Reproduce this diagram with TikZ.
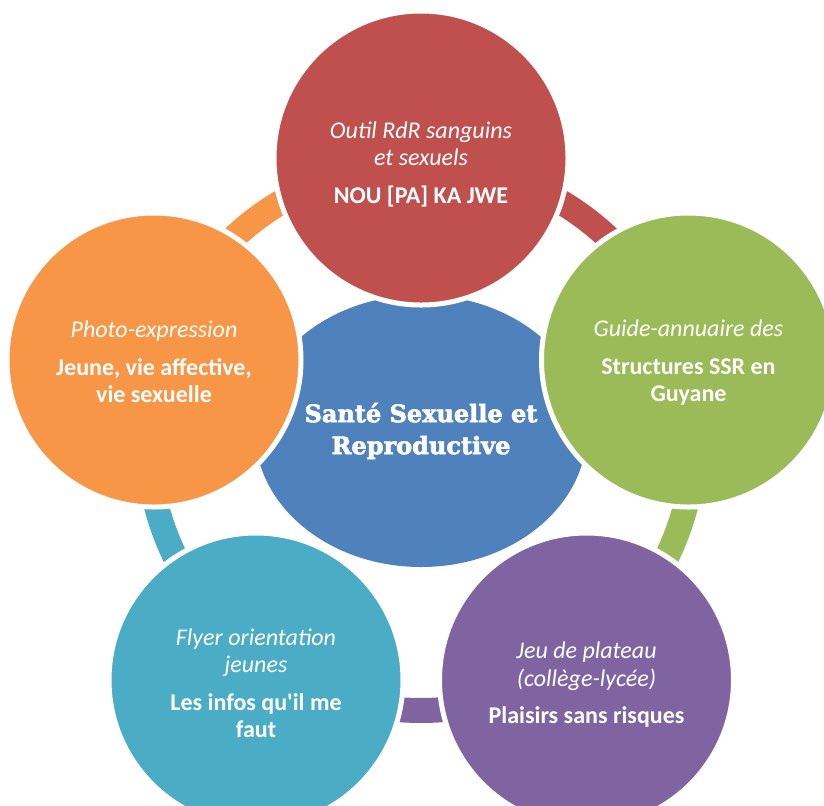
\documentclass[tikz,border=0pt]{standalone}
\usepackage{fontspec}
\setmainfont{Carlito}
\newfontfamily\slabfont[FakeBold=2.5]{DejaVu Serif}
\usetikzlibrary{shapes.geometric}
\definecolor{ssrred}{HTML}{C0504D}
\definecolor{ssrgreen}{HTML}{9BBB59}
\definecolor{ssrpurple}{HTML}{8064A2}
\definecolor{ssrteal}{HTML}{4BACC6}
\definecolor{ssrorange}{HTML}{F79646}
\definecolor{ssrblue}{HTML}{4F81BD}
\tikzset{
  bubble/.style={circle, draw=white, line width=2.5pt, minimum size=147pt, inner sep=0pt},
  bubbletext/.style={text=white, align=center, inner sep=0pt, font=\fontsize{12}{13.75}\selectfont},
  ringarc/.style={line width=12.5pt},
}

\begin{document}
\begin{tikzpicture}[x=0.5pt, y=-0.5pt]
        \clip (0,0) rectangle (824,805);
        \coordinate (RC)    at (421,437);
        \node[ellipse, fill=ssrblue, minimum width=166pt, minimum height=136pt, inner sep=0pt,
          text=white, align=center, font=\slabfont\bfseries\fontsize{12}{16}\selectfont]
          (ssr) at (421,431) {Santé Sexuelle et\\Reproductive};
        % ring pieces between the bubbles
        \draw[ringarc, ssrred]    (RC) ++(-90:273.5)  arc[start angle=-90,   end angle=-16.1, radius=273.5];
        \draw[ringarc, ssrgreen]  (RC) ++(-16.1:273.5) arc[start angle=-16.1, end angle=55.7,  radius=273.5];
        \draw[ringarc, ssrpurple] (RC) ++(55.7:273.5)  arc[start angle=55.7,  end angle=124.3, radius=273.5];
        \draw[ringarc, ssrteal]   (RC) ++(124.3:273.5) arc[start angle=124.3, end angle=196.1, radius=273.5];
        \draw[ringarc, ssrorange] (RC) ++(196.1:273.5) arc[start angle=196.1, end angle=270,   radius=273.5];
        \node[bubble, fill=ssrred]    (outil) at (421,158) {};
        \node[bubble, fill=ssrgreen]  (guide) at (688.5,360) {};
        \node[bubble, fill=ssrpurple] (jeu)   at (586.5,680) {};
        \node[bubble, fill=ssrteal]   (flyer) at (256,680) {};
        \node[bubble, fill=ssrorange] (photo) at (154,360) {};
        \node[bubbletext] (outiltext) at ([yshift=-3pt]outil.center)
          {\textit{Outil RdR sanguins}\\\textit{et sexuels}\\[5pt]\textbf{NOU [PA] KA JWE}};
        \node[bubbletext] (guidetext) at ([yshift=-1.5pt]guide.center)
          {\textit{Guide-annuaire des}\\[5pt]\textbf{Structures SSR en}\\\textbf{Guyane}};
        \node[bubbletext] (jeutext) at ([yshift=-2.5pt]jeu.center)
          {\textit{Jeu de plateau}\\\textit{(collège-lycée)}\\[5pt]\textbf{Plaisirs sans risques}};
        \node[bubbletext] (flyertext) at ([yshift=-1.5pt]flyer.center)
          {\textit{Flyer orientation}\\\textit{jeunes}\\[5pt]\textbf{Les infos qu\textquotesingle il me}\\\textbf{faut}};
        \node[bubbletext] (phototext) at ([yshift=-1pt]photo.center)
          {\textit{Photo-expression}\\[5pt]\textbf{Jeune, vie affective,}\\\textbf{vie sexuelle}};
\end{tikzpicture}
\end{document}
